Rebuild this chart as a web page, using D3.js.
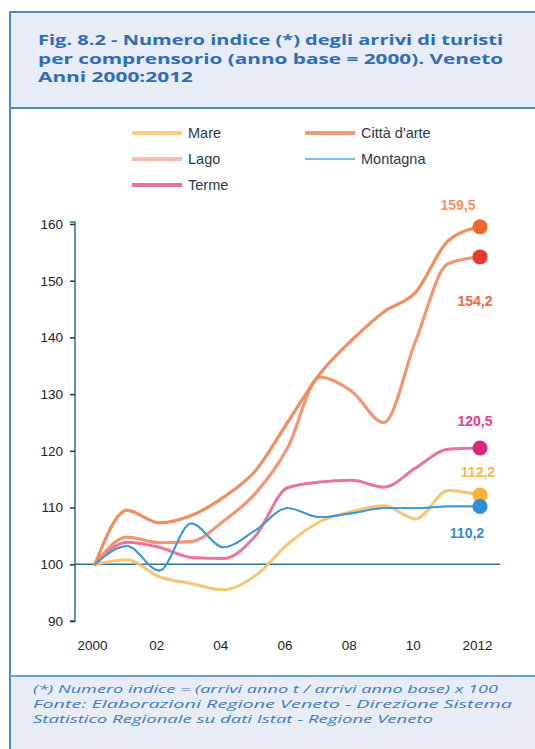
<!DOCTYPE html>
<html>
<head>
<meta charset="utf-8">
<script src="https://cdn.jsdelivr.net/npm/d3@7"></script>
<style>
html,body{margin:0;padding:0;background:#fff;}
svg{display:block;}
</style>
</head>
<body>
<svg id="chart" width="535" height="749"></svg>
<script>
// ---- DATA ----
const years = [2000,2001,2002,2003,2004,2005,2006,2007,2008,2009,2010,2011,2012];
const mare      = [100,100.8,97.8,96.6,95.5,98.0,103.5,107.5,109.3,110.3,108.0,113.0,112.2];
const cittaArte = [100,109.5,107.3,108.6,111.8,116.5,125.0,133.5,139.5,144.5,148.0,157.0,159.5];
const lago      = [100,104.8,103.8,104.0,107.6,112.5,120.5,133.0,130.5,125.0,139.5,153.0,154.2];
const terme     = [100,103.9,103.0,101.2,101.0,105.0,113.5,114.5,114.8,113.6,117.0,120.3,120.5];
const montagna  = [100,103.2,98.9,107.2,103.0,106.0,109.9,108.3,109.0,109.9,109.9,110.2,110.2];
const yTicks = [90,100,110,120,130,140,150,160];
const xTickYears = [2000,2002,2004,2006,2008,2010,2012];
const xTickLabels = ["2000","02","04","06","08","10","2012"];
const endLabels = ["159,5","154,2","120,5","112,2","110,2"];
const titleLines = ["Fig. 8.2 - Numero indice (*) degli arrivi di turisti",
                    "per comprensorio (anno base = 2000). Veneto",
                    "Anni 2000:2012"];
const noteLines = ["(*) Numero indice = (arrivi anno t / arrivi anno base) x 100",
                   "Fonte: Elaborazioni Regione Veneto - Direzione Sistema",
                   "Statistico Regionale su dati Istat - Regione Veneto"];

const series = [
  {name:"Mare", values:mare, line:"#F9C16C", legend:"#FBCB84", dot:"#F8B23A", w:3},
  {name:"Città d'arte", values:cittaArte, line:"#EF8A5A", legend:"#F1997C", dot:"#EE6A2E", w:3.2},
  {name:"Lago", values:lago, line:"#F08F6C", legend:"#F7BDAE", dot:"#E63A2C", w:3.2},
  {name:"Montagna", values:montagna, line:"#3D9AD6", legend:"#7EBFE6", dot:"#2C8ED5", w:1.8},
  {name:"Terme", values:terme, line:"#E86D9A", legend:"#E8709C", dot:"#E0287A", w:3}
];

const svg = d3.select("#chart");

// ---- frame & panels ----
svg.append("rect").attr("x",10).attr("y",12).attr("width",540).attr("height",760)
  .attr("fill","#fff").attr("stroke","#4D88C6").attr("stroke-width",2);
svg.append("rect").attr("x",11).attr("y",13).attr("width",530).attr("height",95).attr("fill","#E8ECF6");
svg.append("line").attr("x1",10).attr("x2",535).attr("y1",108).attr("y2",108)
  .attr("stroke","#4D88C6").attr("stroke-width",2);
svg.append("rect").attr("x",11).attr("y",676).attr("width",530).attr("height",80).attr("fill","#E8ECF6");
svg.append("line").attr("x1",10).attr("x2",535).attr("y1",676).attr("y2",676)
  .attr("stroke","#6A9ED4").attr("stroke-width",2);

// title
const titleWidths = [465,465,155];
titleLines.forEach((t,i)=>{
  svg.append("text").attr("x",38).attr("y",45+i*18.5)
    .attr("font-family","'Open Sans', 'DejaVu Sans', sans-serif")
    .attr("font-weight","bold").attr("font-size",15).attr("fill","#2F6DB5")
    .attr("textLength",titleWidths[i]).attr("lengthAdjust","spacingAndGlyphs")
    .text(t);
});

// footnotes
const noteWidths = [465,479,400];
noteLines.forEach((t,i)=>{
  svg.append("text").attr("x",33).attr("y",693+i*15)
    .attr("font-family","'Open Sans', 'DejaVu Sans', sans-serif")
    .attr("font-style","italic").attr("font-size",11.2).attr("fill","#3D7BC3")
    .attr("textLength",noteWidths[i]).attr("lengthAdjust","spacingAndGlyphs")
    .text(t);
});

// ---- scales ----
const x = d3.scaleLinear().domain([2000,2012]).range([95,480]);
const y = d3.scaleLinear().domain([90,160]).range([621,224]);

// y axis
const yAxis = d3.axisLeft(y).tickValues(yTicks).tickSize(5).tickPadding(7).tickFormat(d3.format("d"));
const gy = svg.append("g").attr("transform","translate(75,0)").call(yAxis);
gy.select(".domain").attr("stroke","#2F6F8C").attr("stroke-width",1.5)
  .attr("d",`M-5,${y(90)}H0V${y(160)-2}H-5`);
gy.selectAll(".tick line").attr("stroke","#333").attr("stroke-width",1.5);
gy.selectAll(".tick text").attr("font-family","'Liberation Sans', Arial, sans-serif")
  .attr("font-size",13.5).attr("fill","#222");

// x axis labels (no line)
const xAxis = d3.axisBottom(x).tickValues(xTickYears).tickSize(0).tickPadding(0)
  .tickFormat((d,i)=>xTickLabels[i]);
const gx = svg.append("g").attr("transform","translate(-3,640)").call(xAxis);
gx.select(".domain").remove();
gx.selectAll(".tick text").attr("font-family","'Liberation Sans', Arial, sans-serif")
  .attr("font-size",13.5).attr("fill","#222");

// baseline at 100
svg.append("line").attr("x1",75).attr("x2",500).attr("y1",y(100)).attr("y2",y(100))
  .attr("stroke","#2F6F8C").attr("stroke-width",1.6);

// ---- lines ----
const lineGen = d3.line().x((d,i)=>x(years[i])).y(d=>y(d)).curve(d3.curveMonotoneX);
const drawOrder = [0,3,4,2,1];
drawOrder.forEach(k=>{
  const s = series[k];
  svg.append("path").attr("d",lineGen(s.values)).attr("fill","none")
    .attr("stroke",s.line).attr("stroke-width",s.w).attr("stroke-opacity",0.95)
    .attr("stroke-linejoin","round").attr("stroke-linecap","round");
});
svg.append("path").attr("d",lineGen(montagna)).attr("fill","none")
  .attr("stroke",series[3].line).attr("stroke-width",1.8);

// end dots
const dotOrder = [1,2,4,0,3];
dotOrder.forEach(k=>{
  const s = series[k];
  const v = s.values[s.values.length-1];
  svg.append("circle").attr("cx",x(2012)).attr("cy",y(v)).attr("r",7.5).attr("fill",s.dot);
});

// end labels
const labelCfg = [
  {k:1, dx:-22, dy:-22, color:"#F0935E"},
  {k:2, dx:-5, dy:44, color:"#E9694A"},
  {k:4, dx:-5, dy:-27, color:"#E1408A"},
  {k:0, dx:-2, dy:-23, color:"#F6B84E"},
  {k:3, dx:-13, dy:27, color:"#2C8ED5"}
];
labelCfg.forEach((c,i)=>{
  const s = series[c.k];
  const v = s.values[s.values.length-1];
  svg.append("text").attr("x",x(2012)+c.dx).attr("y",y(v)+c.dy).attr("dy","0.35em")
    .attr("text-anchor","middle").attr("font-family","'Liberation Sans', Arial, sans-serif")
    .attr("font-weight","bold").attr("font-size",14).attr("fill",c.color)
    .text(endLabels[i]);
});

// ---- legend ----
const legendPos = [
  {k:0, x:132, y:133},
  {k:2, x:132, y:159},
  {k:4, x:132, y:185},
  {k:1, x:305, y:133},
  {k:3, x:305, y:159}
];
legendPos.forEach(p=>{
  const s = series[p.k];
  svg.append("line").attr("x1",p.x).attr("x2",p.x+50).attr("y1",p.y).attr("y2",p.y)
    .attr("stroke",s.legend).attr("stroke-width",p.k===3?2:4);
  svg.append("text").attr("x",p.x+56).attr("y",p.y).attr("dy","0.35em")
    .attr("font-family","'Liberation Sans', Arial, sans-serif").attr("font-size",14.5)
    .attr("fill","#2A3A4A").text(s.name);
});
</script>
</body>
</html>
